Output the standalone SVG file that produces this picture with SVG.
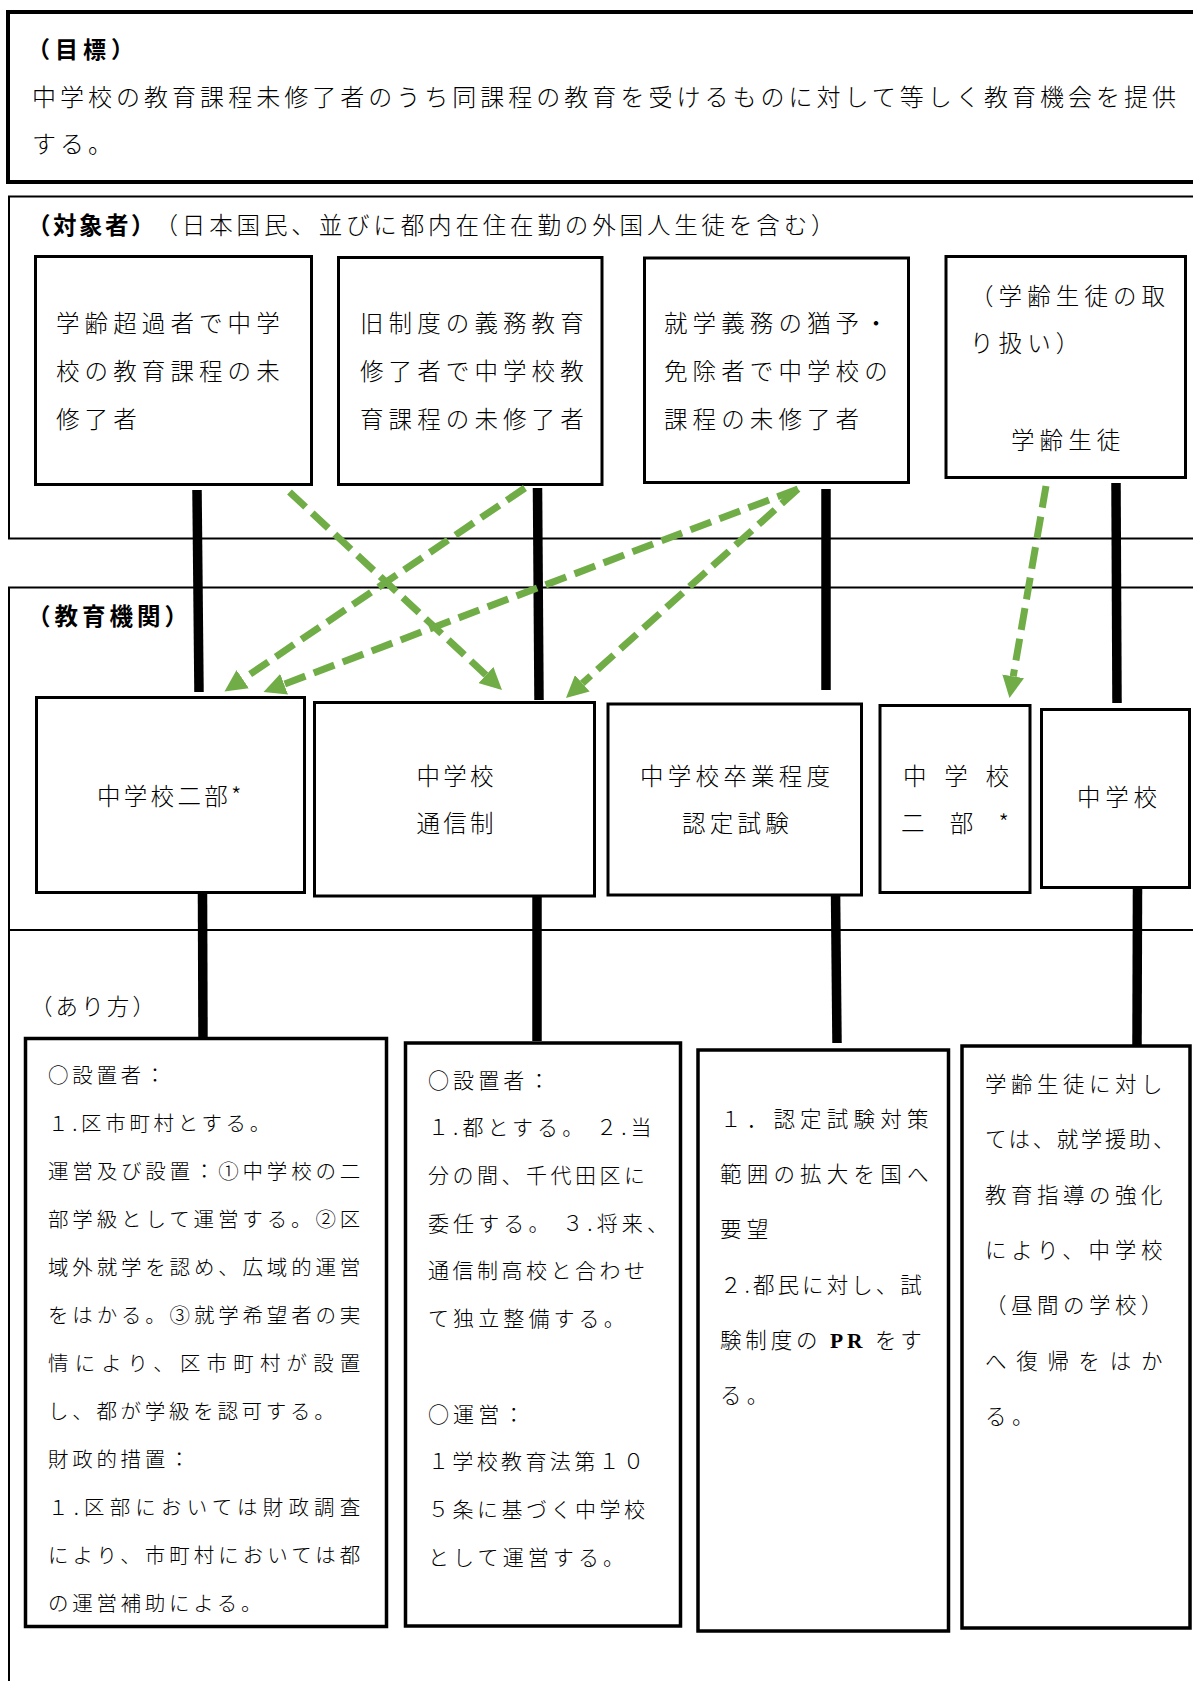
<svg xmlns="http://www.w3.org/2000/svg" width="1193" height="1681" viewBox="0 0 1193 1681">
<defs>
<marker id="ah" viewBox="0 0 22 22" markerWidth="22" markerHeight="22" markerUnits="userSpaceOnUse" refX="0" refY="11" orient="auto">
<path d="M0,0 L22,11 L0,22 z" fill="#70AD47"/>
</marker>
</defs>
<style>
text{font-family:"Noto Sans CJK JP","Noto Sans CJK SC",sans-serif;fill:#000;font-weight:300}
.b{font-weight:700}
.sec{fill:none;stroke:#000;stroke-width:2}
.box{fill:#fff;stroke:#000;stroke-width:3}
.bx{fill:#fff;stroke:#000;stroke-width:3.5}
.conn{stroke:#000;stroke-width:9.5;fill:none}
.arr{stroke:#70AD47;stroke-width:7;stroke-dasharray:22 9;fill:none;marker-end:url(#ah)}
.t22{font-size:23.5px;letter-spacing:5.1px}
.t22n{font-size:23.5px;letter-spacing:3.3px}
.j{font-size:20.5px;letter-spacing:3.7px}
.k{font-size:21px;letter-spacing:4.1px}
.l{font-size:21.5px;letter-spacing:5.2px}
.m{font-size:21.5px;letter-spacing:5.5px}
</style>

<g id="sections">
<rect x="8" y="12" width="1200" height="170" fill="none" stroke="#000" stroke-width="4"/>
<rect class="sec" x="9" y="196.5" width="1200" height="342"/>
<rect class="sec" x="9" y="587.5" width="1200" height="342.5"/>
<rect class="sec" x="9" y="930" width="1200" height="800"/>
</g>

<g id="goal">
<text class="b" x="27" y="58" font-size="23" letter-spacing="5">（目標）</text>
<text x="32" y="106" font-size="24" textLength="1144" lengthAdjust="spacing">中学校の教育課程未修了者のうち同課程の教育を受けるものに対して等しく教育機会を提供</text>
<text x="32" y="152.5" font-size="24" letter-spacing="4">する。</text>
</g>

<g id="target-title">
<text class="b" x="27" y="234" font-size="23.5" textLength="127.5" lengthAdjust="spacing">（対象者）</text>
<text x="154.5" y="234" font-size="23.5" textLength="680" lengthAdjust="spacing">（日本国民、並びに都内在住在勤の外国人生徒を含む）</text>
</g>

<g id="inst-title">
<text class="b" x="27" y="624.5" font-size="23.5" letter-spacing="4">（教育機関）</text>
</g>

<g id="way-title">
<text x="30" y="1015" font-size="22.5" letter-spacing="3.1">（あり方）</text>
</g>

<g id="connectors">
<line class="conn" x1="197" y1="490" x2="199" y2="692"/>
<line class="conn" x1="537.5" y1="488" x2="539" y2="700"/>
<line class="conn" x1="826" y1="489" x2="826" y2="690"/>
<line class="conn" x1="1116" y1="483" x2="1117" y2="703"/>
<line class="conn" x1="202.5" y1="894" x2="203" y2="1043"/>
<line class="conn" x1="537" y1="890" x2="537" y2="1041"/>
<line class="conn" x1="835.5" y1="890" x2="837" y2="1043"/>
<line class="conn" x1="1137.5" y1="885" x2="1137" y2="1046"/>
</g>

<g id="node-overage">
<rect class="box" x="35.5" y="256.5" width="276" height="228"/>
<text class="t22" x="56" y="331.5">学齢超過者で中学</text>
<text class="t22" x="56" y="380">校の教育課程の未</text>
<text class="t22" x="56" y="427.5">修了者</text>
</g>

<g id="node-oldsystem">
<rect class="box" x="338.5" y="257.5" width="263.5" height="227"/>
<text class="t22" x="360" y="332">旧制度の義務教育</text>
<text class="t22" x="360" y="380">修了者で中学校教</text>
<text class="t22" x="360" y="427.5">育課程の未修了者</text>
</g>

<g id="node-exempt">
<rect class="box" x="644.5" y="258" width="264" height="224.5"/>
<text class="t22" x="664" y="332">就学義務の猶予・</text>
<text class="t22" x="664" y="380">免除者で中学校の</text>
<text class="t22" x="664" y="427.5">課程の未修了者</text>
</g>

<g id="node-schoolage">
<rect class="box" x="946" y="256.5" width="239.5" height="221"/>
<text class="t22" x="970" y="305">（学齢生徒の取</text>
<text class="t22" x="970" y="352">り扱い）</text>
<text class="t22" x="1011" y="449">学齢生徒</text>
</g>

<g id="node-night1">
<rect class="box" x="36.5" y="697.5" width="268" height="195"/>
<text class="t22n" x="97" y="805">中学校二部*</text>
</g>

<g id="node-corr">
<rect class="box" x="314.5" y="702.5" width="280" height="193.5"/>
<text class="t22n" x="416.5" y="784.5">中学校</text>
<text class="t22n" x="416.5" y="832">通信制</text>
</g>

<g id="node-exam">
<rect class="box" x="608" y="704" width="253.5" height="191"/>
<text x="640" y="784.5" font-size="23.5" letter-spacing="4.25">中学校卒業程度</text>
<text x="682" y="832" font-size="23.5" letter-spacing="4.25">認定試験</text>
</g>

<g id="node-night2">
<rect class="box" x="880" y="705.5" width="150" height="187"/>
<text x="903" y="784.5" font-size="23.5" textLength="106" lengthAdjust="spacing">中学校</text>
<text x="901" y="832" font-size="23.5" textLength="108" lengthAdjust="spacing">二部*</text>
</g>

<g id="node-jhs">
<rect class="box" x="1041.5" y="709.5" width="148" height="178"/>
<text x="1077" y="805.5" font-size="23.5" letter-spacing="4.8">中学校</text>
</g>

<g id="node-way1">
<rect class="bx" x="25.5" y="1038.5" width="361" height="588"/>
<text class="j" x="48" y="1082.5">○設置者：</text>
<text class="j" x="48" y="1130.5">１.区市町村とする。</text>
<text class="j" x="48" y="1178.5" textLength="316" lengthAdjust="spacing">運営及び設置：①中学校の二</text>
<text class="j" x="48" y="1226.5" textLength="316" lengthAdjust="spacing">部学級として運営する。②区</text>
<text class="j" x="48" y="1274.5" textLength="316" lengthAdjust="spacing">域外就学を認め、広域的運営</text>
<text class="j" x="48" y="1322.5" textLength="316" lengthAdjust="spacing">をはかる。③就学希望者の実</text>
<text class="j" x="48" y="1370.5" textLength="316" lengthAdjust="spacing">情により、区市町村が設置</text>
<text class="j" x="48" y="1418.5">し、都が学級を認可する。</text>
<text class="j" x="48" y="1466.5">財政的措置：</text>
<text class="j" x="48" y="1514.5" textLength="316" lengthAdjust="spacing">１.区部においては財政調査</text>
<text class="j" x="48" y="1562.5" textLength="316" lengthAdjust="spacing">により、市町村においては都</text>
<text class="j" x="48" y="1610.5">の運営補助による。</text>
</g>

<g id="node-way2">
<rect class="bx" x="405.5" y="1043" width="275" height="583"/>
<text class="k" x="428" y="1087.5">○設置者：</text>
<text class="k" x="428" y="1135.2">１.都とする。 ２.当</text>
<text class="k" x="428" y="1182.9" textLength="221" lengthAdjust="spacing">分の間、千代田区に</text>
<text class="k" x="428" y="1230.6">委任する。 ３.将来、</text>
<text class="k" x="428" y="1278.3" textLength="221" lengthAdjust="spacing">通信制高校と合わせ</text>
<text class="k" x="428" y="1326">て独立整備する。</text>
<text class="k" x="428" y="1421.5">○運営：</text>
<text class="k" x="428" y="1469.1" textLength="220" lengthAdjust="spacing">１学校教育法第１０</text>
<text class="k" x="428" y="1516.8" textLength="221" lengthAdjust="spacing">５条に基づく中学校</text>
<text class="k" x="428" y="1564.5">として運営する。</text>
</g>

<g id="node-way3">
<rect class="bx" x="698" y="1050" width="250.5" height="581"/>
<text class="l" x="720" y="1127">１．認定試験対策</text>
<text class="l" x="720" y="1182.2">範囲の拡大を国へ</text>
<text class="l" x="720" y="1237.4">要望</text>
<text class="l" x="720" y="1292.6" textLength="207" lengthAdjust="spacing">２.都民に対し、試</text>
<text class="l" x="720" y="1347.8" textLength="207" lengthAdjust="spacing">験制度の <tspan font-family="Liberation Serif, serif" font-weight="700">PR</tspan> をす</text>
<text class="l" x="720" y="1403">る。</text>
</g>

<g id="node-way4">
<rect class="bx" x="962" y="1046" width="228" height="582"/>
<text class="m" x="985" y="1092" textLength="183" lengthAdjust="spacing">学齢生徒に対し</text>
<text class="m" x="985" y="1147.3" textLength="195" lengthAdjust="spacing">ては、就学援助、</text>
<text class="m" x="985" y="1202.6" textLength="183" lengthAdjust="spacing">教育指導の強化</text>
<text class="m" x="985" y="1257.9" textLength="183" lengthAdjust="spacing">により、中学校</text>
<text class="m" x="985" y="1313.2" textLength="183" lengthAdjust="spacing">（昼間の学校）</text>
<text class="m" x="985" y="1368.5" textLength="183" lengthAdjust="spacing">へ復帰をはか</text>
<text class="m" x="985" y="1423.8">る。</text>
</g>

<g id="arrows">
<line class="arr" x1="289.5" y1="492" x2="485.9" y2="675"/>
<line class="arr" x1="525" y1="488" x2="242.7" y2="679.2"/>
<line class="arr" x1="798" y1="489" x2="284.1" y2="684.2"/>
<line class="arr" x1="798" y1="489" x2="582.3" y2="683.3"/>
<line class="arr" x1="1046" y1="486" x2="1013.2" y2="676.3"/>
</g>
</svg>
